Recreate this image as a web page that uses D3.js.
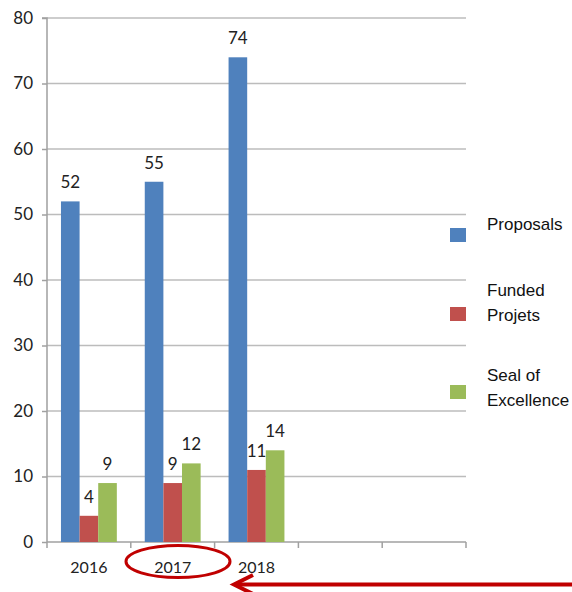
<!DOCTYPE html>
<html><head><meta charset="utf-8">
<script src="https://cdn.jsdelivr.net/npm/d3@7"></script>
<style>body{margin:0;background:#fff}</style>
</head><body>
<svg id="c" width="572" height="592"></svg>
<script>
const categories = ["2016", "2017", "2018", "", " "];
const seriesNames = ["Proposals", "Funded Projets", "Seal of Excellence"];
const proposals = [52, 55, 74];
const funded = [4, 9, 11];
const seal = [9, 12, 14];
const yTicks = [0, 10, 20, 30, 40, 50, 60, 70, 80];
const legendLines = [["Proposals"], ["Funded", "Projets"], ["Seal of", "Excellence"]];
const colors = ["#4F81BD", "#C0504D", "#9BBB59"];

const series = [proposals, funded, seal];
const svg = d3.select("#c");
const x0 = 47, x1 = 466, yTop = 18, yBot = 542;
const font = "Lato, 'Open Sans', sans-serif";

const x = d3.scaleBand().domain(categories).range([x0, x1]).paddingInner(0).paddingOuter(0);
const y = d3.scaleLinear().domain([0, 80]).range([yBot, yTop]);
const inner = d3.scaleBand().domain(d3.range(series.length)).range([0, x.bandwidth()]).paddingInner(0).paddingOuter(0.75);

// gridlines
svg.append("g").selectAll("line").data(yTicks.filter(d => d > 0)).join("line")
  .attr("x1", x0).attr("x2", x1).attr("y1", d => y(d)).attr("y2", d => y(d))
  .attr("stroke", "#bcbcbc").attr("stroke-width", 1.5);

// y axis
const ya = svg.append("g").attr("transform", `translate(${x0},0)`)
  .call(d3.axisLeft(y).tickValues(yTicks).tickSize(5).tickPadding(9));
ya.select(".domain").attr("stroke", "#a0a0a0").attr("stroke-width", 1.5).attr("d", `M-5,${yTop}H0V${yBot}`);
ya.selectAll(".tick line").attr("stroke", "#a0a0a0").attr("stroke-width", 1.5);
ya.selectAll("text").attr("font-family", font).attr("font-size", 17).attr("fill", "#222");

// x axis
const xa = svg.append("g").attr("transform", `translate(0,${yBot})`);
xa.append("line").attr("x1", x0).attr("x2", x1).attr("stroke", "#a0a0a0").attr("stroke-width", 1.5);
const bounds = categories.map(c => x(c)).concat([x1]);
xa.selectAll("line.tk").data(bounds).join("line").attr("class", "tk")
  .attr("x1", d => d).attr("x2", d => d).attr("y1", 0).attr("y2", 6)
  .attr("stroke", "#a0a0a0").attr("stroke-width", 1.5);
xa.selectAll("text").data(categories).join("text")
  .attr("x", d => x(d) + x.bandwidth() / 2).attr("y", 31)
  .attr("text-anchor", "middle").attr("font-family", font).attr("font-size", 16).attr("fill", "#222")
  .text(d => d.trim());

// bars
series.forEach((vals, si) => {
  const g = svg.append("g");
  g.selectAll("rect").data(vals).join("rect")
    .attr("x", (d, i) => x(categories[i]) + inner(si))
    .attr("width", inner.bandwidth())
    .attr("y", d => y(d)).attr("height", d => yBot - y(d))
    .attr("fill", colors[si]);
  g.selectAll("text").data(vals).join("text")
    .attr("x", (d, i) => x(categories[i]) + inner(si) + inner.bandwidth() / 2)
    .attr("y", d => y(d) - 13)
    .attr("text-anchor", "middle").attr("font-family", font).attr("font-size", 17).attr("fill", "#222")
    .text(d => d);
});

// legend
const legSq = [228, 307, 385];
const legText = [[226], [292, 317], [377, 402]];
legendLines.forEach((lines, i) => {
  svg.append("rect").attr("x", 450).attr("y", legSq[i]).attr("width", 16).attr("height", 14).attr("fill", colors[i]);
  lines.forEach((t, j) => {
    svg.append("text").attr("x", 487).attr("y", legText[i][j])
      .attr("dominant-baseline", "middle")
      .attr("font-family", "'Liberation Sans', Arial, sans-serif").attr("font-size", 17).attr("fill", "#111")
      .text(t);
  });
});

// annotation ellipse and arrow
svg.append("ellipse").attr("cx", 178).attr("cy", 561.5).attr("rx", 52).attr("ry", 16)
  .attr("fill", "none").attr("stroke", "#C00000").attr("stroke-width", 3);
svg.append("line").attr("x1", 572).attr("x2", 236).attr("y1", 584.5).attr("y2", 584.5)
  .attr("stroke", "#C00000").attr("stroke-width", 4);
svg.append("path").attr("d", "M253,575 L234,584.5 L253,594")
  .attr("fill", "none").attr("stroke", "#C00000").attr("stroke-width", 4);
</script>
</body></html>
